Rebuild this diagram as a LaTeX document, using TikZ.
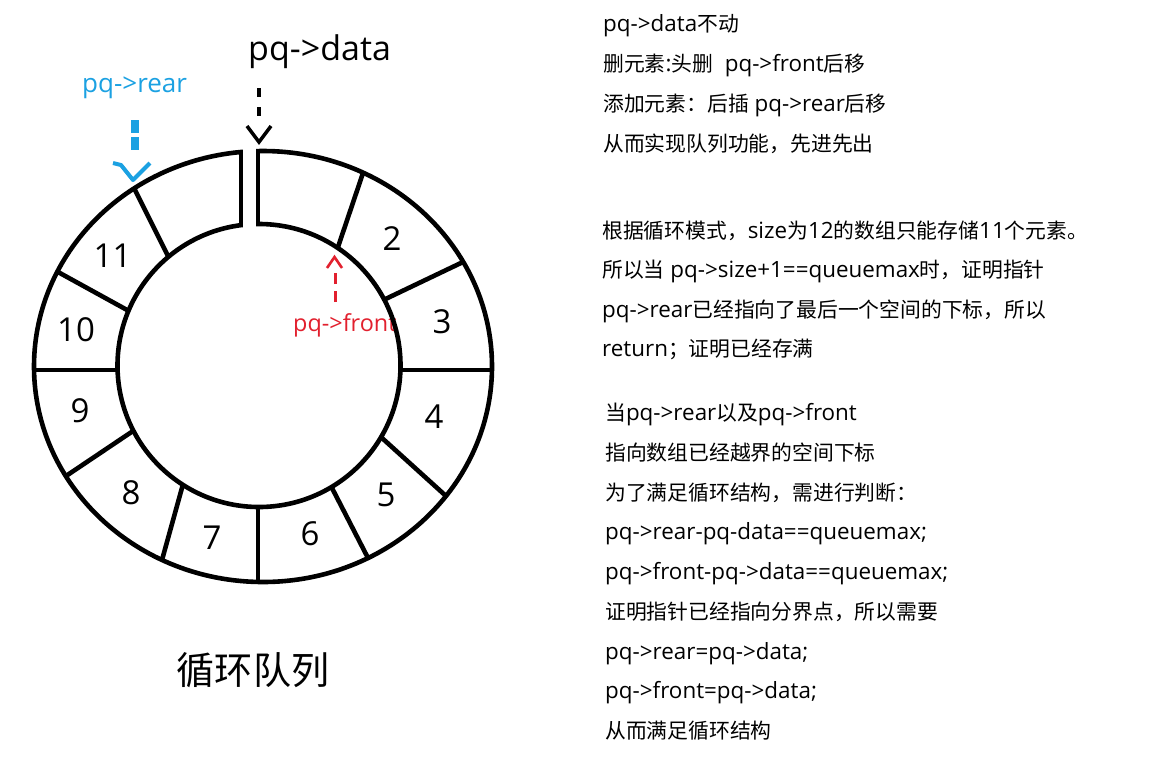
\documentclass[tikz,border=0pt]{standalone}
\usepackage{fontspec}
\setmainfont{Open Sans}
\newfontfamily\cjkf{Noto Sans CJK SC}[Scale=0.9286]
\newcommand{\ZH}[1]{{\cjkf #1}}
\definecolor{rearblue}{RGB}{27,161,226}
\definecolor{frontred}{RGB}{226,32,46}
\begin{document}
\begin{tikzpicture}[x=1pt,y=-1pt,
  ring/.style={line width=4.6pt,black},
  cellnum/.style={anchor=center,inner sep=0pt,font=\fontsize{33}{36}\selectfont},
  txt/.style={anchor=base west,inner sep=0pt,font=\fontsize{22.4}{27}\selectfont},
  lbl/.style={anchor=base west,inner sep=0pt}]
\useasboundingbox (0,0) rectangle (1156,772);
\fill[white] (0,0) rectangle (1156,772);

% ---- pointers ----
\node[lbl,font=\fontsize{34}{40}\selectfont] (data) at (248,60) {pq->data};
\coordinate (ds) at (259,88); \coordinate (de) at (259,116);
\coordinate (dtip) at (259,142);
\draw[line width=3.3pt,dash pattern=on 9pt off 10pt] (ds) -- (de);
\draw[line width=3.5pt] (247,126) -- (dtip) -- (271,126);

\node[lbl,font=\fontsize{26}{30}\selectfont,text=rearblue] (rear) at (82,92) {pq->rear};
\coordinate (rs) at (135,120); \coordinate (re) at (135,151);
\coordinate (rtip) at (133,180);
\draw[rearblue,line width=8pt,dash pattern=on 13pt off 4pt] (rs) -- (re);
\draw[rearblue,line width=4pt,line join=round] (113,163) -- (121,165) -- (rtip) -- (150,163);

\node[lbl,font=\fontsize{23.4}{28}\selectfont,text=frontred] (front) at (293,331) {pq->front};
\coordinate (fs) at (335,302); \coordinate (fe) at (335,272);
\coordinate (ftip) at (334.5,257);
\draw[frontred,line width=3pt,dash pattern=on 11pt off 7pt] (fs) -- (fe);
\draw[frontred,line width=2.6pt] (327,268) -- (ftip) -- (342,268);

% ---- ring ----
\draw[ring] (263,366.5) ellipse [x radius=229pt, y radius=215.5pt];
\draw[ring] (259,365.5) circle [radius=141.5pt];
\fill[white] (243.4,146) rectangle (255.6,240);
\draw[ring] (241,150) -- (241,227);
\draw[ring] (258,149) -- (258,226);
% dividers
\draw[ring] (363,173) -- (338,247);
\draw[ring] (463,262) -- (384.5,299.5);
\draw[ring] (492,370) -- (400.4,370);
\draw[ring] (446,496) -- (382,438);
\draw[ring] (368,558) -- (332,488);
\draw[ring] (258,582) -- (258,507);
\draw[ring] (162,560) -- (182.5,486);
\draw[ring] (66,476) -- (133,431);
\draw[ring] (34,370) -- (117.6,370);
\draw[ring] (58,272) -- (128,310.5);
\draw[ring] (134,188) -- (168,256);

% cell numbers
\node[cellnum] (c2) at (392,239) {2};
\node[cellnum] (c3) at (442,322) {3};
\node[cellnum] (c4) at (434,417) {4};
\node[cellnum] (c5) at (386,495) {5};
\node[cellnum] (c6) at (310,534) {6};
\node[cellnum] (c7) at (212,538) {7};
\node[cellnum] (c8) at (131,493) {8};
\node[cellnum] (c9) at (80,411) {9};
\node[cellnum] (c10) at (76,329.5) {10};
\node[cellnum] (c11) at (112.5,256) {11};

\node[anchor=center,inner sep=0pt,font=\fontsize{41}{46}\selectfont] (title) at (253,670) {\ZH{循环队列}};

% ---- right text ----
\node[txt] (t1) at (603,31) {pq->data\ZH{不动}};
\node[txt] (t2) at (603,71) {\ZH{删元素}:\ZH{头删}\ \ pq->front\ZH{后移}};
\node[txt] (t3) at (603,111) {\ZH{添加元素：后插} pq->rear\ZH{后移}};
\node[txt] (t4) at (603,151) {\ZH{从而实现队列功能，先进先出}};
\node[txt] (t5) at (602,238) {\ZH{根据循环模式，}size\ZH{为}12\ZH{的数组只能存储}11\ZH{个元素。}};
\node[txt] (t6) at (602,277) {\ZH{所以当} pq->size+1==queuemax\ZH{时，证明指针}};
\node[txt] (t7) at (602,317) {pq->rear\ZH{已经指向了最后一个空间的下标，所以}};
\node[txt] (t8) at (602,356) {return\ZH{；证明已经存满}};
\node[txt] (t9) at (605,420) {\ZH{当}pq->rear\ZH{以及}pq->front};
\node[txt] (t10) at (605,460) {\ZH{指向数组已经越界的空间下标}};
\node[txt] (t11) at (605,500) {\ZH{为了满足循环结构，需进行判断：}};
\node[txt] (t12) at (605,539) {pq->rear-pq-data==queuemax;};
\node[txt] (t13) at (605,579) {pq->front-pq->data==queuemax;};
\node[txt] (t14) at (605,619) {\ZH{证明指针已经指向分界点，所以需要}};
\node[txt] (t15) at (605,659) {pq->rear=pq->data;};
\node[txt] (t16) at (605,698) {pq->front=pq->data;};
\node[txt] (t17) at (605,738) {\ZH{从而满足循环结构}};
\end{tikzpicture}
\end{document}
